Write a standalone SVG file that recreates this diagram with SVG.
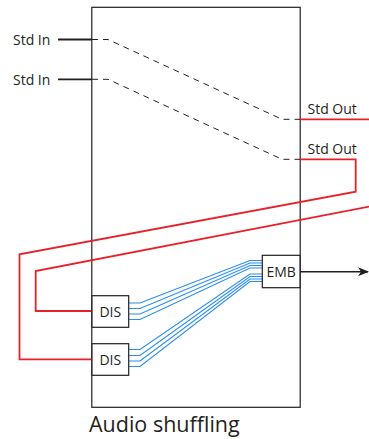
<svg xmlns="http://www.w3.org/2000/svg" width="369" height="439" viewBox="0 0 369 439">
<style>
.box{fill:#fff;stroke:#231f20;stroke-width:1.2}
.lbl{font-family:"Open Sans","Noto Sans",sans-serif;font-size:14px;fill:#231f20}
.red{fill:none;stroke:#e8202a;stroke-width:1.8}
.blue{fill:none;stroke:#2a8ef0;stroke-width:1.2}
.dash{fill:none;stroke:#231f20;stroke-width:1;stroke-dasharray:6 5}
.blk{fill:none;stroke:#231f20;stroke-width:1.8}
</style>
<defs>
<marker id="arr" markerWidth="11" markerHeight="9" refX="10" refY="4.5" orient="auto" markerUnits="userSpaceOnUse">
<path d="M0,0 L11,4.5 L0,9 L3,4.5 Z" fill="#231f20"/>
</marker>
</defs>
<g id="main">
<rect class="box" x="91.8" y="7.3" width="208.4" height="400"/>
</g>
<g id="connectors">
<line class="blk" x1="58" y1="39.5" x2="92" y2="39.5"/>
<line class="blk" x1="58" y1="79.3" x2="92" y2="79.3"/>
<path class="dash" d="M92,39.5 H108 L282,119.3 H300"/>
<path class="dash" d="M92,79.3 H108 L282,159.3 H300"/>
<line class="red" x1="300" y1="119.3" x2="369" y2="119.3"/>
<path class="red" d="M300,159.3 H355.7 V191.7 L19.5,254.3 V359.3 H92"/>
<path class="red" d="M372,206 L35.7,271 V311 H92"/>
<path class="blue" d="M129,303 H140 L250,260.5 H262"/>
<path class="blue" d="M129,308.5 H140 L250,263 H262"/>
<path class="blue" d="M129,314 H140 L250,265.5 H262"/>
<path class="blue" d="M129,319.5 H140 L250,268 H262"/>
<path class="blue" d="M129,349.5 H140 L250,274 H262"/>
<path class="blue" d="M129,355.5 H140 L250,276.5 H262"/>
<path class="blue" d="M129,361 H140 L250,279 H262"/>
<path class="blue" d="M129,366.5 H140 L250,281.5 H262"/>
<line x1="300" y1="271.7" x2="368" y2="271.7" stroke="#231f20" stroke-width="1.5" marker-end="url(#arr)"/>
</g>
<g id="dis1">
<rect class="box" x="92" y="295.7" width="36.7" height="31.6"/>
<text class="lbl" x="110.3" y="316.5" text-anchor="middle">DIS</text>
</g>
<g id="dis2">
<rect class="box" x="92" y="343.7" width="36.7" height="31.6"/>
<text class="lbl" x="110.3" y="364.5" text-anchor="middle">DIS</text>
</g>
<g id="emb">
<rect class="box" x="262.3" y="255.3" width="37.7" height="32.4"/>
<text class="lbl" x="281.2" y="276.5" text-anchor="middle">EMB</text>
</g>
<g id="labels">
<text class="lbl" x="13" y="44.5">Std In</text>
<text class="lbl" x="13" y="84.5">Std In</text>
<text class="lbl" x="307.5" y="113.5">Std Out</text>
<text class="lbl" x="307.5" y="153.5">Std Out</text>
<text x="89" y="432" font-family="'Open Sans','Noto Sans',sans-serif" font-size="21.5" fill="#231f20">Audio shuffling</text>
</g>
</svg>
